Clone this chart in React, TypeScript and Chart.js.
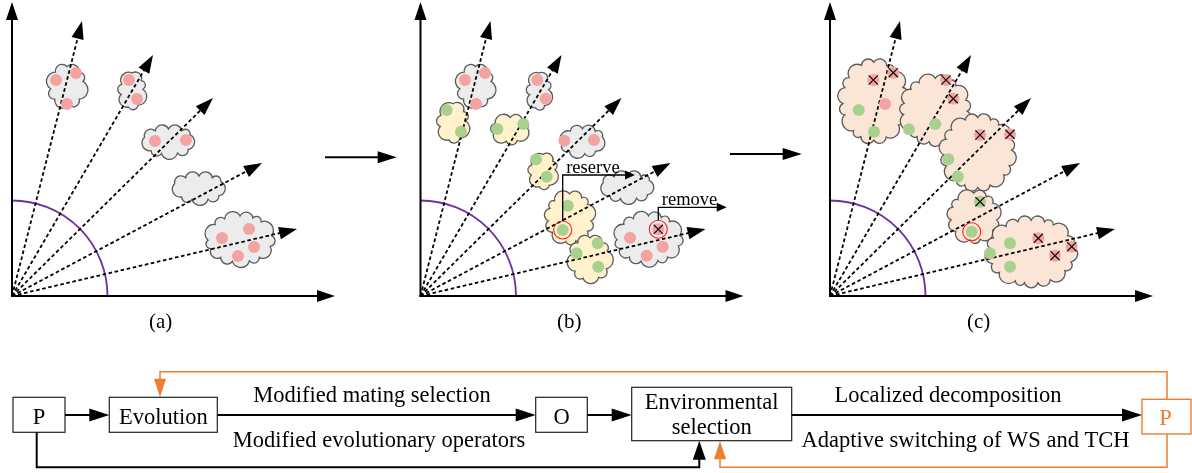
import React, { useEffect, useRef } from "react";
import { Chart, registerables } from "chart.js";

Chart.register(...registerables);

// ---------- figure space (x: 0..1192 right, y: 0..473 down) ----------
const FIG_W = 1192;
const FIG_H = 473;
const SERIF = '"Liberation Serif", "Times New Roman", serif';

// ---------- panels: local objective space (f1 right, f2 up) ----------
const PANEL_LABELS = ["(a)", "(b)", "(c)"];
const PANEL_ORIGIN_X = [12, 420.5, 830];
const PANEL_ORIGIN_Y = 296;
const AXIS_F1_MAX = 323;
const AXIS_F2_MAX = 294;
const ARC_RADIUS = 95.5;
const RAY_TIP_F1 = [70, 141, 201, 250, 285];
const RAY_TIP_F2 = [275, 241, 198, 133, 67];

// clouds: [f1 centre, f2 centre, width, height]
const CLOUDS_A_GRAY = [[55, 210, 43, 49], [120, 205.5, 32, 45], [156.5, 154.5, 61, 35], [187, 108, 62, 34], [228, 57, 74, 56]];
const CLOUDS_B_GRAY = [[55, 210, 42, 49], [118.5, 205, 29, 46], [162, 154.7, 52, 35], [207, 109, 62, 34], [228, 57.3, 73, 56]];
const CLOUDS_B_YELLOW = [[32.5, 173.7, 36, 47], [89.7, 166.5, 45, 34], [122.5, 125, 34, 43], [149.2, 78.2, 53, 58], [169.5, 37.2, 47, 52]];
const CLOUDS_C_PEACH = [[43.8, 194.8, 72, 88], [105.3, 185.7, 74, 74], [147.7, 143.5, 78, 80], [143.8, 79.3, 56, 57], [201.2, 44.3, 94, 73]];

// solutions: [f1, f2]
const PINK_A = [[44, 216], [64, 223], [55, 192], [117, 216], [125, 197], [143, 155], [174, 156], [210, 58], [237, 67], [242, 49], [226, 40]];
const PINK_B = [[44.5, 216], [64.5, 223], [55.5, 192], [116.8, 216], [125.2, 197.3], [143.8, 155.3], [173.5, 156], [209.5, 58.3], [237.8, 66.7], [242.2, 49.3], [226.2, 40.3]];
const GREEN_B = [[26.2, 186], [40.5, 164.3], [76.8, 167], [102.8, 172], [115.5, 136.7], [126.2, 119.3], [147.2, 90.3], [142.2, 66], [177.2, 52.7], [156.2, 42.7], [177.8, 29.3]];
const PINK_C = [[43.3, 216], [63.3, 223.3], [55, 192], [116, 216], [123.3, 197.3], [150, 161], [180, 161.7], [208.3, 57.7], [241.7, 49.3], [225, 40.3]];
const GREEN_C = [[28.7, 186], [44, 164.3], [79, 166.7], [105.3, 172], [118.3, 136.7], [127.7, 119.3], [150, 94.3], [141.7, 64.3], [180, 52.7], [160, 42.7], [180, 29.3]];
const CROSSED_B = [[237.8, 66.7]];
const CROSSED_C = [[43.3, 216], [63.3, 223.3], [116, 216], [123.3, 197.3], [150, 161], [180, 161.7], [150, 94.3], [208.3, 57.7], [241.7, 49.3], [225, 40.3]];
const RINGED_B = [[142.2, 66], [237.8, 66.7]];
const RINGED_C = [[141.7, 64.3]];

// panel (b) annotations
const ANNOT_TEXT = ["reserve", "remove"];
const ANNOT_FROM = [[142.2, 75], [237.8, 75.7]];
const ANNOT_CORNER_F2 = [121, 88.7];
const ANNOT_TIP_F1 = [214.5, 306.2];

// ---------- flow chart (figure space) ----------
const FLOW_LABELS = [["P"], ["Evolution"], ["O"], ["Environmental", "selection"], ["P"]];
const EDGE_TEXT_TOP = ["Modified mating selection", "Localized decomposition"];
const EDGE_TEXT_BOTTOM = ["Modified evolutionary operators", "Adaptive switching of WS and TCH"];

const COL = {
  gray: "#ececec",
  yellow: "#fff2cc",
  peach: "#fbe5d6",
  outline: "#5a5a5a",
  pink: "#f4a3a3",
  green: "#a9d18e",
  purple: "#7030a0",
  orange: "#ed7d31",
  red: "#ff2020",
};

const toFig = (p: number, pts: number[][]) =>
  pts.map(([f1, f2]) => ({ x: PANEL_ORIGIN_X[p] + f1, y: PANEL_ORIGIN_Y - f2 }));

function drawCloud(ctx: CanvasRenderingContext2D, cx: number, cy: number, w: number, h: number, fill: string) {
  const depthGuess = 5;
  const rx = Math.max(w / 2 - depthGuess, 3);
  const ry = Math.max(h / 2 - depthGuess, 3);
  const N = 400;
  const pts: number[][] = [];
  const cum: number[] = [0];
  for (let i = 0; i <= N; i++) {
    const t = -Math.PI / 2 + (2 * Math.PI * i) / N;
    pts.push([cx + rx * Math.cos(t), cy + ry * Math.sin(t)]);
    if (i > 0) cum.push(cum[i - 1] + Math.hypot(pts[i][0] - pts[i - 1][0], pts[i][1] - pts[i - 1][1]));
  }
  const total = cum[N];
  const pattern = [1.0, 0.7, 1.35, 0.85, 1.2, 0.8, 1.3, 0.95];
  const n = Math.max(7, Math.round(total / 13.5));
  const weights: number[] = [];
  for (let k = 0; k < n; k++) weights.push(pattern[k % pattern.length]);
  const sumW = weights.reduce((a, b) => a + b, 0);
  const q: number[][] = [];
  let acc = 0;
  let j = 0;
  for (let k = 0; k < n; k++) {
    const target = (acc / sumW) * total;
    while (j < N - 1 && cum[j + 1] < target) j++;
    const seg = cum[j + 1] - cum[j] || 1;
    const f = (target - cum[j]) / seg;
    q.push([pts[j][0] + (pts[j + 1][0] - pts[j][0]) * f, pts[j][1] + (pts[j + 1][1] - pts[j][1]) * f]);
    acc += weights[k];
  }
  ctx.beginPath();
  ctx.moveTo(q[0][0], q[0][1]);
  for (let k = 0; k < n; k++) {
    const A = q[k];
    const B = q[(k + 1) % n];
    const dx = B[0] - A[0];
    const dy = B[1] - A[1];
    const L = Math.hypot(dx, dy) || 1;
    const r = L / 2;
    const d = 0.3 * r;
    const nx = -dy / L;
    const ny = dx / L;
    const C = [(A[0] + B[0]) / 2 + nx * d, (A[1] + B[1]) / 2 + ny * d];
    const R = Math.hypot(r, d);
    const a0 = Math.atan2(A[1] - C[1], A[0] - C[0]);
    const a1 = Math.atan2(B[1] - C[1], B[0] - C[0]);
    ctx.arc(C[0], C[1], R, a0, a1, false);
  }
  ctx.closePath();
  ctx.fillStyle = fill;
  ctx.fill();
  ctx.lineWidth = 1.3;
  ctx.strokeStyle = COL.outline;
  ctx.stroke();
}

function arrow(
  ctx: CanvasRenderingContext2D,
  pts: number[][],
  color: string,
  lw: number,
  headLen: number,
  headHalf: number,
  dash: number[] = []
) {
  const n = pts.length;
  const [tx, ty] = pts[n - 1];
  const [px, py] = pts[n - 2];
  const dx = tx - px;
  const dy = ty - py;
  const L = Math.hypot(dx, dy) || 1;
  const ux = dx / L;
  const uy = dy / L;
  const bx = tx - ux * headLen;
  const by = ty - uy * headLen;
  ctx.save();
  ctx.strokeStyle = color;
  ctx.fillStyle = color;
  ctx.lineWidth = lw;
  ctx.lineJoin = "miter";
  ctx.setLineDash(dash);
  ctx.beginPath();
  ctx.moveTo(pts[0][0], pts[0][1]);
  for (let i = 1; i < n - 1; i++) ctx.lineTo(pts[i][0], pts[i][1]);
  ctx.lineTo(bx + ux, by + uy);
  ctx.stroke();
  ctx.setLineDash([]);
  ctx.beginPath();
  ctx.moveTo(tx, ty);
  ctx.lineTo(bx - uy * headHalf, by + ux * headHalf);
  ctx.lineTo(bx + uy * headHalf, by - ux * headHalf);
  ctx.closePath();
  ctx.fill();
  ctx.restore();
}

const diagramPlugin = {
  id: "diagram",
  beforeDatasetsDraw(chart: any) {
    const ctx: CanvasRenderingContext2D = chart.ctx;
    const X = (v: number) => chart.scales.x.getPixelForValue(v);
    const Y = (v: number) => chart.scales.y.getPixelForValue(v);
    const PX = (p: number, f1: number) => X(PANEL_ORIGIN_X[p] + f1);
    const PY = (f2: number) => Y(PANEL_ORIGIN_Y - f2);
    ctx.save();

    const cloudSets: [number, number[][], string][] = [
      [0, CLOUDS_A_GRAY, COL.gray],
      [1, CLOUDS_B_GRAY, COL.gray],
      [1, CLOUDS_B_YELLOW, COL.yellow],
      [2, CLOUDS_C_PEACH, COL.peach],
    ];
    for (const [p, list, fill] of cloudSets) {
      for (const c of list) {
        const x0 = PX(p, c[0] - c[2] / 2);
        const x1 = PX(p, c[0] + c[2] / 2);
        const y0 = PY(c[1] + c[3] / 2);
        const y1 = PY(c[1] - c[3] / 2);
        drawCloud(ctx, (x0 + x1) / 2, (y0 + y1) / 2, x1 - x0, y1 - y0, fill);
      }
    }

    for (let p = 0; p < 3; p++) {
      const ox = PX(p, 0);
      const oy = PY(0);
      const r = PX(p, ARC_RADIUS) - ox;
      ctx.beginPath();
      ctx.strokeStyle = COL.purple;
      ctx.lineWidth = 1.8;
      ctx.arc(ox, oy, r, -Math.PI / 2, 0, false);
      ctx.stroke();
      for (let i = 0; i < RAY_TIP_F1.length; i++) {
        arrow(ctx, [[ox, oy], [PX(p, RAY_TIP_F1[i]), PY(RAY_TIP_F2[i])]], "#000", 1.8, 18, 6.2, [3.6, 2.6]);
      }
      arrow(ctx, [[ox, oy + 1], [ox, PY(AXIS_F2_MAX)]], "#000", 2, 18, 6);
      arrow(ctx, [[ox - 1, oy], [PX(p, AXIS_F1_MAX), oy]], "#000", 2, 18, 6);
      ctx.fillStyle = "#000";
      ctx.font = `21px ${SERIF}`;
      ctx.textAlign = "center";
      ctx.textBaseline = "alphabetic";
      ctx.fillText(PANEL_LABELS[p], PX(p, 148.7), Y(328));
    }

    arrow(ctx, [[X(325), Y(157.3)], [X(396.7), Y(157.3)]], "#000", 2, 19, 6);
    arrow(ctx, [[X(730), Y(154)], [X(801.7), Y(154)]], "#000", 2, 19, 6);

    // ---------- flow chart ----------
    const boxes = [
      [13, 397.3, 65, 432.3],
      [109.3, 397.3, 217.3, 432.3],
      [535.7, 397.3, 587.3, 432.3],
      [631.7, 387.3, 791.7, 440.7],
      [1142, 399.3, 1191, 434],
    ];
    const baselines = [[423.5], [423.5], [423.5], [408.5, 434], [425]];
    ctx.font = `22.5px ${SERIF}`;
    ctx.textAlign = "center";
    boxes.forEach((b, i) => {
      const orange = i === 4;
      ctx.strokeStyle = orange ? COL.orange : "#222";
      ctx.lineWidth = orange ? 1.4 : 1.2;
      ctx.strokeRect(X(b[0]), Y(b[1]), X(b[2]) - X(b[0]), Y(b[3]) - Y(b[1]));
      ctx.fillStyle = orange ? COL.orange : "#000";
      FLOW_LABELS[i].forEach((t, k) => ctx.fillText(t, X((b[0] + b[2]) / 2 + (i === 4 ? -1 : 0)), Y(baselines[i][k])));
    });

    const fy = 415;
    arrow(ctx, [[X(65), Y(fy)], [X(109.3), Y(fy)]], "#000", 2, 20, 6.5);
    arrow(ctx, [[X(217.3), Y(fy)], [X(535.7), Y(fy)]], "#000", 2, 20, 6.5);
    arrow(ctx, [[X(587.3), Y(fy)], [X(631.7), Y(fy)]], "#000", 2, 20, 6.5);
    arrow(ctx, [[X(791.7), Y(fy)], [X(1142), Y(fy)]], "#000", 2, 20, 6.5);
    arrow(ctx, [[X(36.7), Y(432.3)], [X(36.7), Y(467.3)], [X(699.3), Y(467.3)], [X(699.3), Y(440.7)]], "#000", 2, 19, 6.5);
    arrow(ctx, [[X(1167), Y(399.3)], [X(1167), Y(371.7)], [X(160), Y(371.7)], [X(160), Y(397.3)]], COL.orange, 1.5, 18.5, 6);
    arrow(ctx, [[X(1167), Y(434)], [X(1167), Y(467.3)], [X(720), Y(467.3)], [X(720), Y(440.7)]], COL.orange, 1.5, 18.5, 6);

    ctx.fillStyle = "#000";
    ctx.font = `22.5px ${SERIF}`;
    ctx.fillText(EDGE_TEXT_TOP[0], X(372), Y(401.5));
    ctx.fillText(EDGE_TEXT_TOP[1], X(948), Y(401.5));
    ctx.fillText(EDGE_TEXT_BOTTOM[0], X(379), Y(447.3));
    ctx.fillText(EDGE_TEXT_BOTTOM[1], X(965.5), Y(447.3));

    ctx.restore();
  },
  afterDatasetsDraw(chart: any) {
    const ctx: CanvasRenderingContext2D = chart.ctx;
    const X = (v: number) => chart.scales.x.getPixelForValue(v);
    const Y = (v: number) => chart.scales.y.getPixelForValue(v);
    const PX = (p: number, f1: number) => X(PANEL_ORIGIN_X[p] + f1);
    const PY = (f2: number) => Y(PANEL_ORIGIN_Y - f2);
    ctx.save();
    const crossSets: [number, number[][]][] = [[1, CROSSED_B], [2, CROSSED_C]];
    ctx.strokeStyle = "#111";
    ctx.lineWidth = 1.3;
    for (const [p, list] of crossSets) {
      for (const [f1, f2] of list) {
        const x = PX(p, f1);
        const y = PY(f2);
        const s = 4.6;
        ctx.beginPath();
        ctx.moveTo(x - s, y - s);
        ctx.lineTo(x + s, y + s);
        ctx.moveTo(x + s, y - s);
        ctx.lineTo(x - s, y + s);
        ctx.stroke();
      }
    }
    const ringSets: [number, number[][]][] = [[1, RINGED_B], [2, RINGED_C]];
    ctx.strokeStyle = COL.red;
    ctx.lineWidth = 1.1;
    for (const [p, list] of ringSets) {
      for (const [f1, f2] of list) {
        const x = PX(p, f1);
        const y = PY(f2);
        const r = PX(p, 9) - PX(p, 0);
        ctx.beginPath();
        ctx.arc(x, y, r, 0, Math.PI * 2);
        ctx.stroke();
      }
    }
    ctx.font = `18.5px ${SERIF}`;
    ctx.textAlign = "left";
    ctx.textBaseline = "alphabetic";
    for (let i = 0; i < ANNOT_TEXT.length; i++) {
      const [f1, f2] = ANNOT_FROM[i];
      arrow(
        ctx,
        [[PX(1, f1), PY(f2)], [PX(1, f1), PY(ANNOT_CORNER_F2[i])], [PX(1, ANNOT_TIP_F1[i]), PY(ANNOT_CORNER_F2[i])]],
        "#000",
        1.3,
        10,
        4.5
      );
      ctx.fillStyle = "#000";
      ctx.fillText(ANNOT_TEXT[i], PX(1, f1 + 3.5), PY(ANNOT_CORNER_F2[i] + 2.3));
    }
    ctx.restore();
  },
};

export default function App() {
  const ref = useRef<HTMLCanvasElement | null>(null);
  useEffect(() => {
    document.body.style.margin = "0";
    const canvas = ref.current;
    if (!canvas) return;
    const dot = (label: string, data: any[], color: string) => ({
      label,
      data,
      pointRadius: 6,
      pointHoverRadius: 6,
      pointBorderWidth: 0,
      pointBackgroundColor: color,
      borderColor: color,
      showLine: false,
    });
    const chart = new Chart(canvas, {
      type: "scatter",
      data: {
        datasets: [
          dot("pink a", toFig(0, PINK_A), COL.pink),
          dot("pink b", toFig(1, PINK_B), COL.pink),
          dot("green b", toFig(1, GREEN_B), COL.green),
          dot("pink c", toFig(2, PINK_C), COL.pink),
          dot("green c", toFig(2, GREEN_C), COL.green),
        ],
      },
      options: {
        responsive: false,
        animation: false,
        events: [],
        devicePixelRatio: 1,
        layout: { padding: 0, autoPadding: false },
        scales: {
          x: { type: "linear", min: 0, max: FIG_W, display: false },
          y: { type: "linear", min: 0, max: FIG_H, reverse: true, display: false },
        },
        plugins: { legend: { display: false }, tooltip: { enabled: false } },
      } as any,
      plugins: [diagramPlugin as any],
    });
    return () => chart.destroy();
  }, []);
  return (
    <div style={{ width: FIG_W, height: FIG_H, background: "#fff" }}>
      <canvas ref={ref} width={FIG_W} height={FIG_H} style={{ display: "block" }} />
    </div>
  );
}
